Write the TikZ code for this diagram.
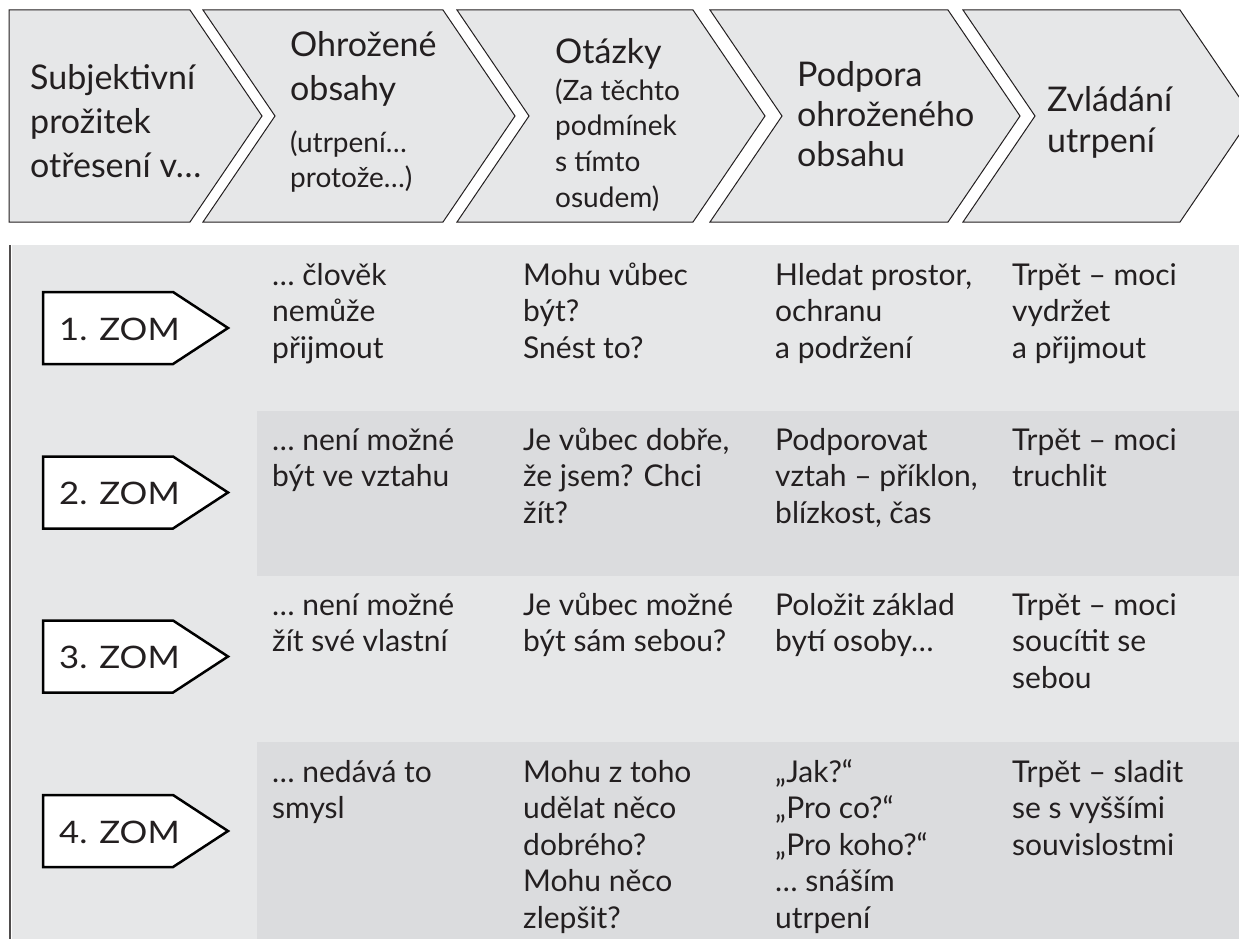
\documentclass[tikz,border=0pt]{standalone}
\usepackage{fontspec}
\setmainfont{Lato}
\newfontfamily\zomfont[FakeStretch=1.12]{Lato}
\definecolor{lightg}{HTML}{E6E7E8}
\definecolor{darkg}{HTML}{DBDCDE}
\definecolor{ink}{HTML}{231F20}
\newcommand{\fl}{\rule{0pt}{30pt}}
\begin{document}
\begin{tikzpicture}[x=1pt,y=-1pt,
  body/.style={anchor=north west, inner sep=0pt, align=left, text=ink, font=\fontsize{30}{36.5}\selectfont},
  headbig/.style={anchor=north west, inner sep=0pt, align=left, text=ink, font=\fontsize{34}{44}\selectfont},
  headsmall/.style={anchor=north west, inner sep=0pt, align=left, text=ink, font=\fontsize{28}{35.7}\selectfont},
  chev/.style={draw=ink, line width=1pt, fill=lightg, line join=miter},
  zomarrow/.style={draw=black, line width=2.5pt, fill=white, line join=miter},
  zomtext/.style={anchor=base west, inner sep=0pt, text=ink, font=\zomfont\fontsize{31}{36}\selectfont}]
\useasboundingbox (0,0) rectangle (1239,939);
% header chevrons
\draw[chev] (9,10) -- (190,10) -- (262,116) -- (190,222) -- (9,222) -- cycle;
\draw[chev] (203,10) -- (443,10) -- (515,116) -- (443,222) -- (203,222) -- (275,116) -- cycle;
\draw[chev] (457,10) -- (693,10) -- (765,116) -- (693,222) -- (457,222) -- (529,116) -- cycle;
\draw[chev] (710,10) -- (948,10) -- (1020,116) -- (948,222) -- (710,222) -- (782,116) -- cycle;
\draw[chev] (963,10) -- (1180,10) -- (1252,116) -- (1180,222) -- (963,222) -- (1035,116) -- cycle;
% header texts
\node[headbig] (h1) at (30,59) {\fl Subjektivní\\prožitek\\otřesení v…};
\node[headbig] (h2) at (290,26) {\fl Ohrožené\\obsahy};
\node[headsmall] (h2s) at (290,122) {\fl (utrpení…\\protože…)};
\node[headbig] (h3) at (555,33) {\fl Otázky};
\node[headsmall] (h3s) at (555,70) {\fl (Za těchto\\podmínek\\s tímto\\osudem)};
\node[headbig,font=\fontsize{34}{40}\selectfont] (h4) at (797,56) {\fl Podpora\\ohroženého\\obsahu};
\node[headbig,font=\fontsize{34}{41}\selectfont] (h5) at (1047,81) {\fl Zvládání\\utrpení};
% table background
\fill[lightg] (12,245) rectangle (1239,939);
\fill[darkg] (257,411) rectangle (1239,576);
\fill[darkg] (257,742) rectangle (1239,939);
\draw[ink!80, line width=1.6pt] (10,245) -- (10,939);
% ZOM arrows
\foreach \c/\n in {328/1, 492.5/2, 656.5/3, 831/4}{
  \draw[zomarrow] (43,\c-36) -- (173,\c-36) -- (228,\c) -- (173,\c+36) -- (43,\c+36) -- cycle;
  \node[zomtext] (zom\n) at (59,\c+12) {\n. ZOM};
}
% row 1
\node[body] (r1a) at (272,255) {\fl … člověk\\nemůže\\přijmout};
\node[body] (r1b) at (523,255) {\fl Mohu vůbec\\být?\\Snést to?};
\node[body] (r1c) at (775,255) {\fl Hledat prostor,\\ochranu\\a podržení};
\node[body] (r1d) at (1012,255) {\fl Trpět – moci\\vydržet\\a přijmout};
% row 2
\node[body] (r2a) at (272,420) {\fl … není možné\\být ve vztahu};
\node[body] (r2b) at (523,420) {\fl Je vůbec dobře,\\že jsem? Chci\\žít?};
\node[body] (r2c) at (775,420) {\fl Podporovat\\vztah – příklon,\\blízkost, čas};
\node[body] (r2d) at (1012,420) {\fl Trpět – moci\\truchlit};
% row 3
\node[body] (r3a) at (272,585) {\fl … není možné\\žít své vlastní};
\node[body] (r3b) at (523,585) {\fl Je vůbec možné\\být sám sebou?};
\node[body] (r3c) at (775,585) {\fl Položit základ\\bytí osoby…};
\node[body] (r3d) at (1012,585) {\fl Trpět – moci\\soucítit se\\sebou};
% row 4
\node[body] (r4a) at (272,752) {\fl … nedává to\\smysl};
\node[body] (r4b) at (523,752) {\fl Mohu z toho\\udělat něco\\dobrého?\\Mohu něco\\zlepšit?};
\node[body] (r4c) at (775,752) {\fl „Jak?“\\„Pro co?“\\„Pro koho?“\\… snáším\\utrpení};
\node[body] (r4d) at (1012,752) {\fl Trpět – sladit\\se s vyššími\\souvislostmi};
\end{tikzpicture}
\end{document}
